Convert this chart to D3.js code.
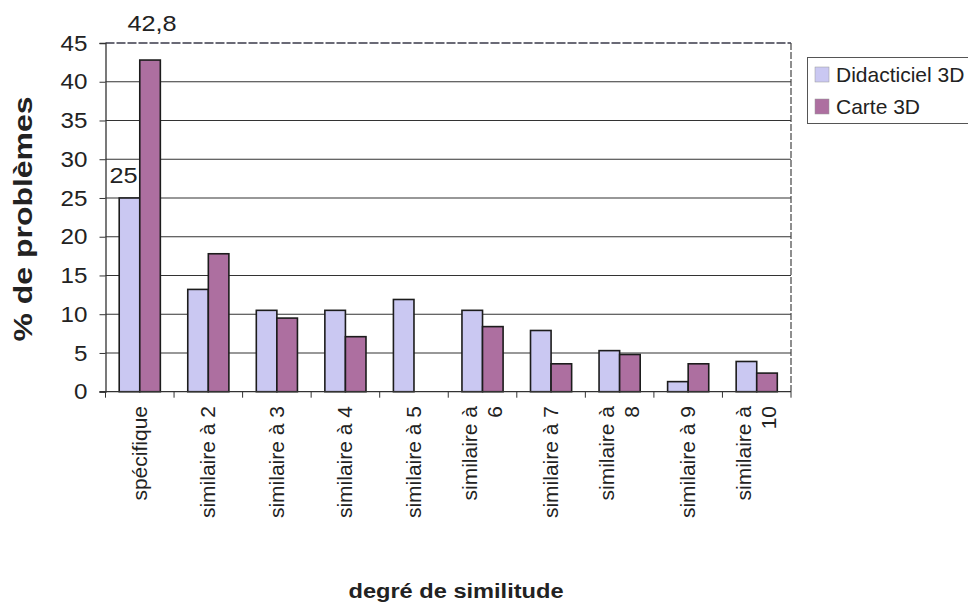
<!DOCTYPE html>
<html>
<head>
<meta charset="utf-8">
<script src="https://cdn.jsdelivr.net/npm/d3@7"></script>
<style>
  body { margin: 0; background: #fff; }
  svg { display: block; font-family: "Liberation Sans", Arial, sans-serif; }
</style>
</head>
<body>
<svg id="chart" width="968" height="608"></svg>
<script>
/* donnees */
var categories = ["spécifique", "similaire à 2", "similaire à 3", "similaire à 4", "similaire à 5",
                  "similaire à 6", "similaire à 7", "similaire à 8", "similaire à 9", "similaire à 10"];
var labelLines = [["spécifique"], ["similaire à 2"], ["similaire à 3"], ["similaire à 4"], ["similaire à 5"],
                  ["similaire à", "6"], ["similaire à 7"], ["similaire à", "8"], ["similaire à 9"], ["similaire à", "10"]];
var seriesNames = ["Didacticiel 3D", "Carte 3D"];
var didacticiel = [25, 13.2, 10.5, 10.5, 11.9, 10.5, 7.9, 5.3, 1.3, 3.9];
var carte = [42.8, 17.8, 9.5, 7.1, 0, 8.4, 3.6, 4.8, 3.6, 2.4];
var yTicks = [0, 5, 10, 15, 20, 25, 30, 35, 40, 45];
var dataLabels = [{serie: 0, cat: 0, text: "25"}, {serie: 1, cat: 0, text: "42,8"}];

var colors = ["#cac8f2", "#ad6fa0"];
var plotLeft = 105.5, plotRight = 791, plotTop = 43, plotBottom = 391.7;

var svg = d3.select("#chart");

var y = d3.scaleLinear().domain([0, 45]).range([plotBottom, plotTop]);
var x0 = d3.scaleBand().domain(categories).range([plotLeft, plotRight]).paddingInner(0.4).paddingOuter(0.2);
var x1 = d3.scaleBand().domain(seriesNames).range([0, x0.bandwidth()]);

// etire un texte en largeur
function stretch(sel, k) {
    sel.each(function () {
        var len = this.getComputedTextLength();
        d3.select(this).attr("textLength", len * k).attr("lengthAdjust", "spacingAndGlyphs");
    });
}

/* grille */
svg.append("g").selectAll("line").data(yTicks.filter(function (d) { return d > 0 && d < 45; }))
    .enter().append("line")
    .attr("x1", plotLeft).attr("x2", plotRight)
    .attr("y1", function (d) { return y(d); }).attr("y2", function (d) { return y(d); })
    .attr("stroke", "#333").attr("stroke-width", 1.1);

// bord haut et droit en pointilles
svg.append("line").attr("x1", plotLeft).attr("x2", plotRight).attr("y1", y(45)).attr("y2", y(45))
    .attr("stroke", "#3a3a4a").attr("stroke-width", 1.3).attr("stroke-dasharray", "9,2");
svg.append("line").attr("x1", plotRight).attr("x2", plotRight).attr("y1", y(45)).attr("y2", y(0))
    .attr("stroke", "#444").attr("stroke-width", 1.2).attr("stroke-dasharray", "7,2");

/* barres */
var series = [didacticiel, carte];
series.forEach(function (vals, s) {
    var pts = vals.map(function (v, i) { return {cat: categories[i], v: v}; })
        .filter(function (d) { return d.v > 0; });
    svg.append("g").selectAll("rect").data(pts).enter().append("rect")
        .attr("x", function (d) { return x0(d.cat) + x1(seriesNames[s]); })
        .attr("y", function (d) { return y(d.v); })
        .attr("width", x1.bandwidth())
        .attr("height", function (d) { return y(0) - y(d.v); })
        .attr("fill", colors[s])
        .attr("stroke", "#1c1c1c").attr("stroke-width", 1.6);
});

/* axe y */
var yAxis = svg.append("g").attr("transform", "translate(" + plotLeft + ",0)")
    .call(d3.axisLeft(y).tickValues(yTicks).tickSize(6).tickPadding(12));
yAxis.select(".domain").attr("stroke", "#333").attr("stroke-width", 1.3);
yAxis.selectAll(".tick line").attr("stroke", "#333");
yAxis.selectAll(".tick text").attr("font-size", 22).attr("fill", "#222")
    .attr("font-family", "Liberation Sans, Arial, sans-serif")
    .call(stretch, 1.1);

/* axe x */
svg.append("line").attr("x1", plotLeft - 6).attr("x2", plotRight).attr("y1", y(0)).attr("y2", y(0))
    .attr("stroke", "#333").attr("stroke-width", 1.3);
svg.append("g").selectAll("line").data(d3.range(categories.length + 1)).enter().append("line")
    .attr("x1", function (i) { return plotLeft + i * x0.step(); })
    .attr("x2", function (i) { return plotLeft + i * x0.step(); })
    .attr("y1", y(0)).attr("y2", y(0) + 6)
    .attr("stroke", "#333");

var xl = svg.append("g").selectAll("g").data(labelLines).enter().append("g")
    .attr("transform", function (d, i) {
        return "translate(" + (x0(categories[i]) + x0.bandwidth() / 2) + ",406)";
    });
xl.each(function (lines) {
    var g = d3.select(this);
    var offs = lines.length === 1 ? [7] : [-6, 19];
    lines.forEach(function (t, j) {
        g.append("text")
            .attr("transform", "translate(" + offs[j] + ",0) rotate(-90)")
            .attr("text-anchor", "end")
            .attr("font-size", 21).attr("fill", "#222")
            .text(t);
    });
});

/* etiquettes de donnees */
svg.append("g").selectAll("text").data(dataLabels).enter().append("text")
    .attr("x", function (d) { return x0(categories[d.cat]) + x1(seriesNames[d.serie]) + x1.bandwidth() / 2 + (d.serie === 0 ? -6 : 2); })
    .attr("y", function (d) { return y(series[d.serie][d.cat]) - (d.serie === 0 ? 15 : 29); })
    .attr("text-anchor", "middle").attr("font-size", 22).attr("fill", "#222")
    .text(function (d) { return d.text; })
    .call(stretch, 1.15);

/* titres */
svg.append("text")
    .attr("transform", "translate(32,219) rotate(-90)")
    .attr("text-anchor", "middle").attr("font-size", 25).attr("font-weight", "bold").attr("fill", "#222")
    .attr("textLength", 245).attr("lengthAdjust", "spacingAndGlyphs")
    .text("% de problèmes");

svg.append("text")
    .attr("x", 456).attr("y", 598)
    .attr("text-anchor", "middle").attr("font-size", 20).attr("font-weight", "bold").attr("fill", "#222")
    .attr("textLength", 215).attr("lengthAdjust", "spacingAndGlyphs")
    .text("degré de similitude");

/* legende */
var leg = svg.append("g");
leg.append("rect").attr("x", 807.5).attr("y", 57.5).attr("width", 170).attr("height", 66)
    .attr("fill", "#fff").attr("stroke", "#555").attr("stroke-width", 1);
seriesNames.forEach(function (n, s) {
    var yy = 67 + s * 32;
    leg.append("rect").attr("x", 815).attr("y", yy).attr("width", 14).attr("height", 15)
        .attr("fill", colors[s]).attr("stroke", "#999").attr("stroke-width", 0.5);
    leg.append("text").attr("x", 836).attr("y", yy + 15)
        .attr("font-size", 21).attr("fill", "#222").text(n);
});
</script>
</body>
</html>
